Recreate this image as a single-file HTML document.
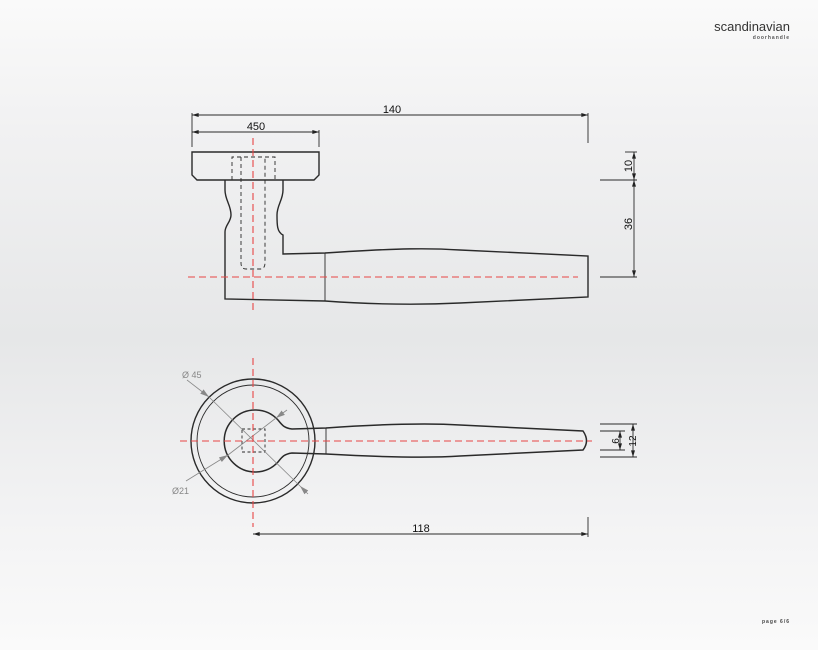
<!DOCTYPE html>
<html><head><meta charset="utf-8"><style>
html,body{margin:0;padding:0;width:818px;height:650px;overflow:hidden}
body{background:linear-gradient(to bottom,#fafafa 0%,#f1f1f2 20%,#e6e7e8 52%,#f3f3f4 80%,#fafafa 100%)}
svg{position:absolute;left:0;top:0}
</style></head><body>
<svg width="818" height="650" viewBox="0 0 818 650" xmlns="http://www.w3.org/2000/svg" font-family="Liberation Sans, sans-serif">
<defs>
<marker id="a" viewBox="0 0 10 6" refX="10" refY="3" markerWidth="7" markerHeight="4" orient="auto-start-reverse" markerUnits="userSpaceOnUse"><path d="M0,0L10,3L0,6z" fill="#222"/></marker>
<marker id="g" viewBox="0 0 10 6" refX="10" refY="3" markerWidth="9" markerHeight="6" orient="auto-start-reverse" markerUnits="userSpaceOnUse"><path d="M0,0L10,3L0,6z" fill="#888"/></marker>
</defs>
<text x="790" y="31" font-size="13" text-anchor="end" fill="#333">scandinavian</text>
<text x="790" y="39" font-size="5" text-anchor="end" fill="#555" letter-spacing="1" font-weight="bold">doorhandle</text>
<text x="790" y="623" font-size="5" text-anchor="end" fill="#444" letter-spacing="1" font-weight="bold">page 6/6</text>

<g stroke="#2a2a2a" stroke-width="0.9" fill="none">
<line x1="192" y1="115" x2="588" y2="115" marker-start="url(#a)" marker-end="url(#a)"/>
<line x1="192" y1="113" x2="192" y2="147"/><line x1="588" y1="113" x2="588" y2="143"/>
<line x1="192" y1="132" x2="319" y2="132" marker-start="url(#a)" marker-end="url(#a)"/>
<line x1="319" y1="130" x2="319" y2="147"/>
<line x1="634" y1="152" x2="634" y2="180" marker-start="url(#a)" marker-end="url(#a)"/>
<line x1="634" y1="180" x2="634" y2="277" marker-start="url(#a)" marker-end="url(#a)"/>
<line x1="600" y1="180" x2="637" y2="180"/><line x1="600" y1="277" x2="637" y2="277"/>
<line x1="625" y1="152" x2="637" y2="152"/>
<path d="M192,152H319V175L314,180H197L192,175Z" stroke-width="1.4"/>
<path d="M225,180V190C225,200 231,205 231,215C231,222 225,225 225,232V299L325,301C380,305 420,305 460,303L588,297V256L460,250C430,248 400,248 325,253L283,254V235C277,232 277,225 277,215C277,205 283,200 283,190V180" stroke-width="1.4"/>
<line x1="325" y1="253" x2="325" y2="301"/>
<g stroke-dasharray="4,3">
<path d="M232,180V157H275V180"/>
<path d="M241,157V263Q241,269 246,269H260Q265,269 265,263V157"/>
</g>
</g>
<g font-size="11" fill="#111" text-anchor="middle">
<text x="392" y="113">140</text><text x="256" y="130">450</text>
<text transform="translate(632,166) rotate(-90)">10</text>
<text transform="translate(632,224) rotate(-90)">36</text>
</g>

<g stroke="#2a2a2a" stroke-width="0.9" fill="none">
<circle cx="253" cy="441" r="62" stroke-width="1.4"/>
<circle cx="253" cy="441" r="56"/>
<path d="M278,462A31,31 0 1 1 278,420C282,425 284,428 292,429L326,428C380,424 430,423 460,425L583,431Q590,441 583,450L460,456C430,458 380,457 326,454L292,453C284,454 282,457 278,462Z" stroke-width="1.5"/>
<line x1="326" y1="428" x2="326" y2="454"/>
<rect x="242" y="429" width="23" height="23" stroke-dasharray="3,2.5"/>
<line x1="253" y1="534" x2="588" y2="534" marker-start="url(#a)" marker-end="url(#a)"/>
<line x1="588" y1="517" x2="588" y2="537"/>
<line x1="600" y1="424" x2="637" y2="424"/><line x1="600" y1="431" x2="625" y2="431"/>
<line x1="600" y1="450" x2="625" y2="450"/><line x1="600" y1="457" x2="637" y2="457"/>
<line x1="633" y1="424" x2="633" y2="457" marker-start="url(#a)" marker-end="url(#a)"/>
<line x1="620" y1="431" x2="620" y2="450" marker-start="url(#a)" marker-end="url(#a)"/>
</g>
<g stroke="#888" stroke-width="0.8" fill="none">
<line x1="187" y1="380" x2="209" y2="397" marker-end="url(#g)"/>
<line x1="209" y1="397" x2="300" y2="486"/>
<line x1="308" y1="494" x2="300" y2="486" marker-end="url(#g)"/>
<line x1="186" y1="481" x2="228" y2="455" marker-end="url(#g)"/>
<line x1="228" y1="455" x2="276" y2="418"/>
<line x1="287" y1="410" x2="276" y2="418" marker-end="url(#g)"/>
</g>
<g font-size="9" fill="#888"><text x="182" y="378">Ø 45</text><text x="172" y="494">Ø21</text></g>
<g font-size="11" fill="#111" text-anchor="middle">
<text x="421" y="532">118</text>
<text transform="translate(619,441) rotate(-90)" font-size="10">6</text>
<text transform="translate(636,441) rotate(-90)" font-size="10">12</text>
</g>

<g stroke="#e84545" stroke-width="1.1" stroke-dasharray="7,4" fill="none">
<line x1="188" y1="277" x2="578" y2="277"/>
<line x1="253" y1="138" x2="253" y2="314"/>
<line x1="180" y1="441" x2="592" y2="441"/>
<line x1="253" y1="358" x2="253" y2="527"/>
</g>
</svg>
</body></html>
